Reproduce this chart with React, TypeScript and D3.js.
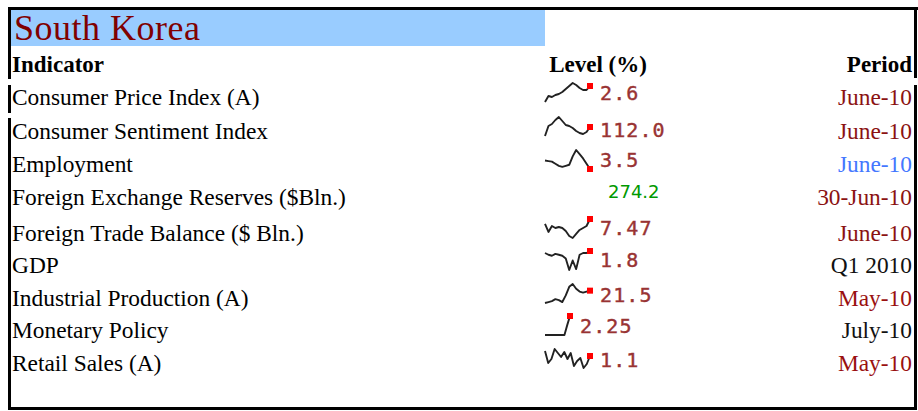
import React from "react";
import * as d3 from "d3";

const indicators = [
  "Consumer Price Index (A)",
  "Consumer Sentiment Index",
  "Employment",
  "Foreign Exchange Reserves ($Bln.)",
  "Foreign Trade Balance ($ Bln.)",
  "GDP",
  "Industrial Production (A)",
  "Monetary Policy",
  "Retail Sales (A)",
];
const levels = ["2.6", "112.0", "3.5", "274.2", "7.47", "1.8", "21.5", "2.25", "1.1"];
const periods = ["June-10", "June-10", "June-10", "30-Jun-10", "June-10", "Q1 2010", "May-10", "July-10", "May-10"];
const periodColors = ["#8b1212", "#8b1212", "#4477ff", "#8b1212", "#8b1212", "#111111", "#9a1010", "#111111", "#9a1010"];

const cpiSeries = [0.2, 1.1, 0.95, 1.25, 1.4, 1.7, 2.15, 2.6, 3.05, 2.75, 2.3, 2.0, 2.0, 2.6];
const csiSeries = [103, 113, 115, 119, 122, 118, 114, 113, 111, 108, 106, 105, 107, 112];
const empSeries = [4.3, 4.25, 4.2, 4.0, 3.8, 3.7, 3.8, 3.9, 4.7, 5.3, 4.9, 4.5, 4.0, 3.5];
const ftbSeries = [5.0, 1.0, 4.0, 3.0, 3.5, 3.0, 1.5, -1.0, -2.0, 0.0, 2.0, 3.0, 4.0, 7.47];
const gdpSeries = [1.1, 0.5, 0.15, 0.8, 0.5, 0.15, -0.8, -4.8, -1.5, -4.5, 0.5, 1.1, 1.1, 1.8];
const ipSeries = [-4.5, -2.5, -0.5, 3.5, 1.5, -2.5, 11.5, 29.5, 35.5, 25.5, 19.5, 17.5, 19.5, 21.5];
const mpSeries = [2.0, 2.0, 2.0, 2.0, 2.0, 2.0, 2.0, 2.0, 2.13, 2.25];
const rsSeries = [3.1, -1.7, -0.1, 3.9, 2.3, 0.7, 2.7, -0.1, 2.3, -2.9, -0.9, 0.3, -3.7, -2.1, 1.1];

const sparkSeries: (number[] | null)[] = [cpiSeries, csiSeries, empSeries, null, ftbSeries, gdpSeries, ipSeries, mpSeries, rsSeries];

const rowBaselines = [105, 139, 172, 205, 241, 273, 306, 338, 371];
const valueBaselines = [100, 137, 167, 198, 235, 267, 302, 333, 367];

export default function App() {
  const W = 918;
  const H = 411;
  const serif = "'Liberation Serif', 'Times New Roman', serif";
  const mono = "'DejaVu Sans Mono', monospace";
  return (
    <svg width={W} height={H} style={{ position: "absolute", left: 0, top: 0 }}>
      <rect x={0} y={0} width={W} height={H} fill="#fff" />
      {/* borders */}
      <rect x={8} y={7} width={910} height={3} fill="#000" />
      <rect x={8} y={7} width={3} height={72} fill="#000" />
      <rect x={8} y={85} width={3} height={28} fill="#000" />
      <rect x={8} y={118} width={3} height={292} fill="#000" />
      <rect x={914} y={7} width={3} height={71} fill="#000" />
      <rect x={914} y={85} width={3} height={325} fill="#000" />
      <rect x={8} y={407} width={909} height={3} fill="#000" />
      {/* title */}
      <rect x={11} y={10} width={534} height={36} fill="#99ccff" />
      <text x={14} y={40} fontFamily={serif} fontSize={36} fill="#800000" letterSpacing={0.5}>
        South Korea
      </text>
      {/* header */}
      <text x={12} y={72} fontFamily={serif} fontSize={23} fontWeight="bold" fill="#000">Indicator</text>
      <text x={598} y={72} fontFamily={serif} fontSize={23} fontWeight="bold" fill="#000" textAnchor="middle">Level (%)</text>
      <text x={912} y={72} fontFamily={serif} fontSize={23} fontWeight="bold" fill="#000" textAnchor="end">Period</text>
      {indicators.map((name, i) => {
        const series = sparkSeries[i];
        const base = rowBaselines[i];
        let spark = null;
        let valueX = 600;
        if (series) {
          const x1 = i === 7 ? 570 : 590;
          if (i === 7) valueX = 580;
          const x = d3.scaleLinear().domain([0, series.length - 1]).range([545, x1]);
          const ext = d3.extent(series) as [number, number];
          const y = d3.scaleLinear().domain(ext).range([base - 3, base - 22]);
          const line = d3.line<number>().x((_, j) => x(j)).y((d) => y(d));
          const last = series[series.length - 1];
          spark = (
            <g>
              <path d={line(series) || ""} fill="none" stroke="#222" strokeWidth={1.9} strokeLinejoin="round" />
              <rect x={x(series.length - 1) - 3} y={y(last) - 3} width={6} height={6} fill="#ff0000" />
            </g>
          );
        }
        return (
          <g key={name}>
            <text x={12} y={base} fontFamily={serif} fontSize={23.4} fill="#000">{name}</text>
            {spark}
            {series ? (
              <text x={valueX} y={valueBaselines[i]} fontFamily={mono} fontSize={20} letterSpacing={1.1} fill="#993333" stroke="#993333" strokeWidth={0.4}>
                {levels[i]}
              </text>
            ) : (
              <text x={608} y={valueBaselines[i]} fontFamily="'DejaVu Sans', sans-serif" fontSize={18} fill="#009900">
                {levels[i]}
              </text>
            )}
            <text x={912} y={base} fontFamily={serif} fontSize={23.4} fill={periodColors[i]} textAnchor="end">{periods[i]}</text>
          </g>
        );
      })}
    </svg>
  );
}
